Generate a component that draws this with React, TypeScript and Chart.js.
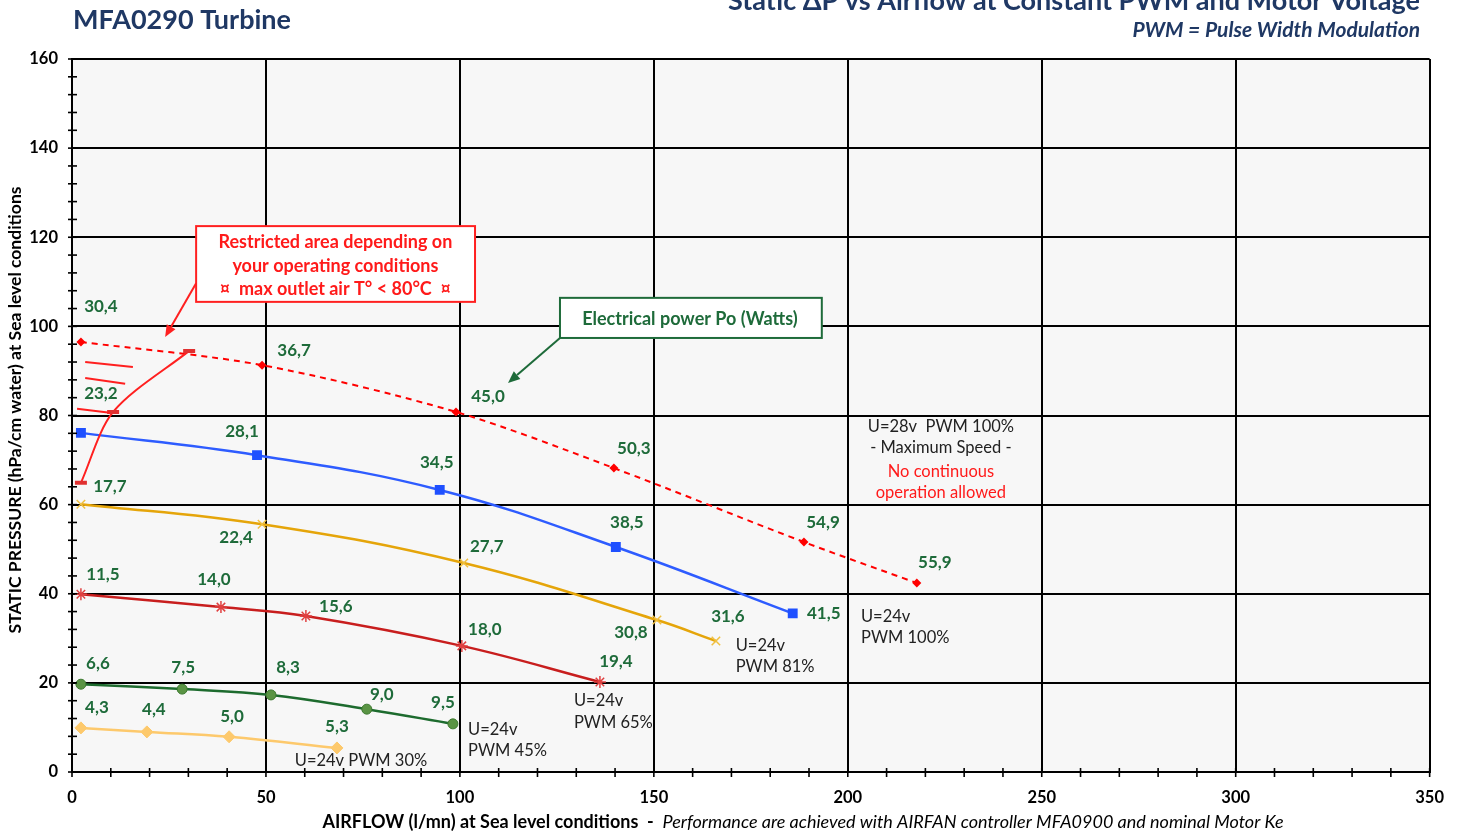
import React, { useEffect, useRef } from "react";
import { Chart, registerables } from "chart.js";

Chart.register(...registerables);

// ---------- DATA ----------
const xTicks = [0, 50, 100, 150, 200, 250, 300, 350];
const yTicks = [0, 20, 40, 60, 80, 100, 120, 140, 160];

// U=28v PWM 100% (max speed)
const airflow28v100 = [2.3, 49.0, 99.0, 139.7, 188.7, 217.8];
const pressure28v100 = [96.5, 91.3, 80.8, 68.2, 51.6, 42.4];
const power28v100 = ["30,4", "36,7", "45,0", "50,3", "54,9", "55,9"];

// U=24v PWM 100%
const airflow24v100 = [2.3, 47.7, 94.8, 140.2, 185.8];
const pressure24v100 = [76.1, 71.1, 63.3, 50.5, 35.6];
const power24v100 = ["23,2", "28,1", "34,5", "38,5", "41,5"];

// U=24v PWM 81%
const airflow24v81 = [2.3, 49.0, 101.0, 150.8, 166.0];
const pressure24v81 = [60.1, 55.6, 46.9, 34.1, 29.4];
const power24v81 = ["17,7", "22,4", "27,7", "30,8", "31,6"];

// U=24v PWM 65%
const airflow24v65 = [2.3, 38.4, 60.3, 100.5, 136.1];
const pressure24v65 = [39.9, 37.0, 35.0, 28.3, 20.2];
const power24v65 = ["11,5", "14,0", "15,6", "18,0", "19,4"];

// U=24v PWM 45%
const airflow24v45 = [2.3, 28.4, 51.3, 76.0, 98.2];
const pressure24v45 = [19.7, 18.6, 17.3, 14.1, 10.8];
const power24v45 = ["6,6", "7,5", "8,3", "9,0", "9,5"];

// U=24v PWM 30%
const airflow24v30 = [2.3, 19.3, 40.5, 68.3];
const pressure24v30 = [9.9, 9.0, 7.9, 5.4];
const power24v30 = ["4,3", "4,4", "5,0", "5,3"];

// Restricted area boundary
const airflowLimit = [2.3, 10.6, 30.2];
const pressureLimit = [64.9, 80.8, 94.5];

// Hatching of the restricted area
const hatch1X = [3.4, 15.7];
const hatch1Y = [92.0, 90.9];
const hatch2X = [3.4, 13.7];
const hatch2Y = [88.4, 87.1];
const hatch3X = [1.3, 9.8];
const hatch3Y = [81.5, 80.6];

// ---------- STYLE (label offsets in px) ----------
const off28v100 = [[20, -35], [32, -15], [32, -15], [20, -20], [19, -20], [18, -21]];
const off24v100 = [[20, -39], [-15, -24], [-3, -27], [11, -24], [31, 0]];
const off24v81 = [[29, -18], [-26, 13], [23, -16], [-26, 12], [12, -24]];
const off24v65 = [[22, -20], [-7, -28], [30, -10], [23, -16], [16, -20]];
const off24v45 = [[17, -21], [1, -22], [17, -27], [15, -15], [-10, -21]];
const off24v30 = [[16, -20], [7, -22], [3, -20], [0, -21]];

const FONT = "Lato, 'Open Sans', sans-serif";
const NAVY = "#1f3864";
const LABEL_GREEN = "#1e6b3a";

const pts = (xs: number[], ys: number[]) => xs.map((x, i) => ({ x, y: ys[i] }));

const overlayPlugin = {
  id: "overlay",
  beforeDraw(chart: any) {
    const { ctx, chartArea: a } = chart;
    ctx.save();
    ctx.fillStyle = "#ffffff";
    ctx.fillRect(0, 0, chart.width, chart.height);
    ctx.fillStyle = "#f7f7f7";
    ctx.fillRect(a.left, a.top, a.right - a.left, a.bottom - a.top);
    ctx.restore();
  },
  afterDraw(chart: any) {
    const { ctx, chartArea: a, scales } = chart;
    const xs = scales.x;
    const ys = scales.y;
    const X = (v: number) => xs.getPixelForValue(v);
    const Y = (v: number) => ys.getPixelForValue(v);
    ctx.save();

    // minor ticks
    ctx.strokeStyle = "#000";
    ctx.lineWidth = 1.6;
    for (let v = 0; v <= 350; v += 10) {
      const px = X(v);
      ctx.beginPath();
      ctx.moveTo(px, a.bottom - 4);
      ctx.lineTo(px, a.bottom + 5);
      ctx.stroke();
    }
    for (let v = 0; v <= 160; v += 4) {
      const py = Y(v);
      ctx.beginPath();
      ctx.moveTo(a.left - 4, py);
      ctx.lineTo(a.left + 5, py);
      ctx.stroke();
    }

    // power labels
    ctx.font = `bold 17px ${FONT}`;
    ctx.fillStyle = LABEL_GREEN;
    ctx.textAlign = "center";
    ctx.textBaseline = "middle";
    chart.data.datasets.forEach((ds: any, i: number) => {
      if (!ds.powerLabels) return;
      const meta = chart.getDatasetMeta(i);
      meta.data.forEach((el: any, j: number) => {
        const o = ds.labelOffsets[j];
        ctx.fillText(ds.powerLabels[j], el.x + o[0], el.y + o[1]);
      });
    });

    // series captions
    ctx.font = `16.5px ${FONT}`;
    ctx.fillStyle = "#222";
    ctx.textAlign = "center";
    ctx.fillText("U=24v PWM 30%", X(74.5), Y(2.5));
    ctx.textAlign = "left";
    ctx.fillText("U=24v", X(102.1), Y(9.4));
    ctx.fillText("PWM 45%", X(102.1), Y(4.7));
    ctx.fillText("U=24v", X(129.4), Y(15.9));
    ctx.fillText("PWM 65%", X(129.4), Y(11.0));
    ctx.fillText("U=24v", X(171.1), Y(28.3));
    ctx.fillText("PWM 81%", X(171.1), Y(23.6));
    ctx.fillText("U=24v", X(203.4), Y(34.8));
    ctx.fillText("PWM 100%", X(203.4), Y(30.1));
    ctx.textAlign = "center";
    ctx.fillText("U=28v  PWM 100%", X(224.0), Y(77.6));
    ctx.fillText("- Maximum Speed -", X(224.0), Y(72.7));
    ctx.fillStyle = "#ff1a1a";
    ctx.fillText("No continuous", X(224.0), Y(67.5));
    ctx.fillText("operation allowed", X(224.0), Y(62.6));

    // arrow helper
    const arrow = (x1: number, y1: number, x2: number, y2: number, color: string) => {
      ctx.strokeStyle = color;
      ctx.fillStyle = color;
      ctx.lineWidth = 2;
      const ang = Math.atan2(y2 - y1, x2 - x1);
      const hl = 12;
      const bx = x2 - Math.cos(ang) * hl;
      const by = y2 - Math.sin(ang) * hl;
      ctx.beginPath();
      ctx.moveTo(x1, y1);
      ctx.lineTo(bx, by);
      ctx.stroke();
      ctx.beginPath();
      ctx.moveTo(x2, y2);
      ctx.lineTo(bx + Math.cos(ang + Math.PI / 2) * 5, by + Math.sin(ang + Math.PI / 2) * 5);
      ctx.lineTo(bx + Math.cos(ang - Math.PI / 2) * 5, by + Math.sin(ang - Math.PI / 2) * 5);
      ctx.closePath();
      ctx.fill();
    };

    // Restricted area box
    const rL = X(32.0), rR = X(103.9), rT = Y(122.5), rB = Y(105.5);
    ctx.fillStyle = "#ffffff";
    ctx.fillRect(rL, rT, rR - rL, rB - rT);
    ctx.strokeStyle = "#ff2020";
    ctx.lineWidth = 2;
    ctx.strokeRect(rL, rT, rR - rL, rB - rT);
    ctx.fillStyle = "#ff1a1a";
    ctx.font = `bold 18px ${FONT}`;
    ctx.textAlign = "center";
    ctx.fillText("Restricted area depending on", X(67.9), Y(118.9));
    ctx.fillText("your operating conditions", X(67.9), Y(113.6));
    ctx.fillText("\u00A4  max outlet air T\u00B0 < 80\u00B0C  \u00A4", X(67.9), Y(108.4));
    arrow(X(32.0), Y(109.7), X(24.0), Y(97.6), "#ff2020");

    // Electrical power box
    const gL = X(125.8), gR = X(193.3), gT = Y(106.4), gB = Y(97.4);
    ctx.fillStyle = "#ffffff";
    ctx.fillRect(gL, gT, gR - gL, gB - gT);
    ctx.strokeStyle = "#1e6b3a";
    ctx.lineWidth = 2;
    ctx.strokeRect(gL, gT, gR - gL, gB - gT);
    ctx.fillStyle = LABEL_GREEN;
    ctx.fillText("Electrical power Po (Watts)", X(159.3), Y(101.7));
    arrow(X(125.8), Y(97.4), X(112.4), Y(87.3), "#1e6b3a");

    // titles
    ctx.fillStyle = NAVY;
    ctx.font = `bold 27px ${FONT}`;
    ctx.textAlign = "left";
    ctx.textBaseline = "middle";
    ctx.fillText("MFA0290 Turbine", 73, 20);
    ctx.textAlign = "right";
    ctx.textBaseline = "alphabetic";
    ctx.fillText("Static \u0394P vs Airflow at Constant PWM and Motor Voltage", 1420, 10);
    ctx.font = `italic bold 21px ${FONT}`;
    ctx.textBaseline = "middle";
    ctx.fillText("PWM = Pulse Width Modulation", 1420, 30);

    // axis titles
    ctx.fillStyle = "#000";
    ctx.font = `bold 17.5px ${FONT}`;
    ctx.save();
    ctx.translate(15, 410);
    ctx.rotate(-Math.PI / 2);
    ctx.textAlign = "center";
    ctx.fillText("STATIC PRESSURE (hPa/cm water) at Sea level conditions", 0, 0);
    ctx.restore();

    const boldPart = "AIRFLOW (l/mn) at Sea level conditions  -  ";
    const italicPart = "Performance are achieved with AIRFAN controller MFA0900 and nominal Motor Ke";
    ctx.font = `bold 18px ${FONT}`;
    const w1 = ctx.measureText(boldPart).width;
    ctx.font = `italic 18px ${FONT}`;
    const w2 = ctx.measureText(italicPart).width;
    const start = 803 - (w1 + w2) / 2;
    ctx.textAlign = "left";
    ctx.font = `bold 18px ${FONT}`;
    ctx.fillText(boldPart, start, 822);
    ctx.font = `italic 18px ${FONT}`;
    ctx.fillText(italicPart, start + w1, 822);

    ctx.restore();
  },
};

export default function App() {
  const ref = useRef<HTMLCanvasElement>(null);

  useEffect(() => {
    if (!ref.current) return;
    const line = (data: any[], color: string, extra: any = {}) => ({
      data,
      borderColor: color,
      backgroundColor: color,
      borderWidth: 2.5,
      tension: 0.4,
      ...extra,
    });

    const chart = new Chart(ref.current, {
      type: "line",
      data: {
        datasets: [
          line(pts(hatch1X, hatch1Y), "#ff2020", { pointRadius: 0, borderWidth: 2, tension: 0 }),
          line(pts(hatch2X, hatch2Y), "#ff2020", { pointRadius: 0, borderWidth: 2, tension: 0 }),
          line(pts(hatch3X, hatch3Y), "#ff2020", { pointRadius: 0, borderWidth: 2, tension: 0 }),
          line(pts(airflowLimit, pressureLimit), "#ff2020", {
            borderWidth: 2,
            pointStyle: "line",
            pointRadius: 6,
            pointBorderWidth: 4,
            pointBorderColor: "#e03030",
            tension: 0.3,
          }),
          line(pts(airflow24v30, pressure24v30), "#fdc96c", {
            pointStyle: "rectRot",
            pointRadius: 6,
            pointBorderWidth: 1,
            powerLabels: power24v30,
            labelOffsets: off24v30,
          }),
          line(pts(airflow24v45, pressure24v45), "#1d6b2e", {
            pointStyle: "circle",
            pointRadius: 5,
            pointBackgroundColor: "#5a9444",
            pointBorderColor: "#3d7a30",
            pointBorderWidth: 1,
            powerLabels: power24v45,
            labelOffsets: off24v45,
          }),
          line(pts(airflow24v65, pressure24v65), "#c81e1e", {
            pointStyle: "star",
            pointRadius: 6,
            pointBorderWidth: 1.5,
            pointBorderColor: "#e04040",
            powerLabels: power24v65,
            labelOffsets: off24v65,
          }),
          line(pts(airflow24v81, pressure24v81), "#e5a50a", {
            pointStyle: "crossRot",
            pointRadius: 6,
            pointBorderWidth: 1.5,
            pointBorderColor: "#f0c040",
            powerLabels: power24v81,
            labelOffsets: off24v81,
          }),
          line(pts(airflow24v100, pressure24v100), "#2e5cff", {
            pointStyle: "rect",
            pointRadius: 7,
            pointBackgroundColor: "#1f50ff",
            pointBorderWidth: 0,
            powerLabels: power24v100,
            labelOffsets: off24v100,
          }),
          line(pts(airflow28v100, pressure28v100), "#ff0000", {
            borderWidth: 2,
            borderDash: [6, 5],
            pointStyle: "rectRot",
            pointRadius: 4.5,
            pointBorderWidth: 0,
            tension: 0.3,
            powerLabels: power28v100,
            labelOffsets: off28v100,
          }),
        ] as any,
      },
      options: {
        responsive: false,
        animation: false,
        devicePixelRatio: 1,
        layout: { padding: { left: 0, top: 59, right: 30, bottom: 0 } },
        plugins: {
          legend: { display: false },
          tooltip: { enabled: false },
        },
        scales: {
          x: {
            type: "linear",
            min: 0,
            max: 350,
            afterBuildTicks: (s: any) => {
              s.ticks = xTicks.map((v) => ({ value: v }));
            },
            afterFit: (s: any) => {
              s.height = 61;
            },
            ticks: {
              color: "#000",
              padding: 16,
              font: { family: FONT, size: 16.5, weight: "bold" },
            },
            grid: { color: "#000", lineWidth: 2, drawTicks: false },
            border: { color: "#000", width: 2 },
          },
          y: {
            type: "linear",
            min: 0,
            max: 160,
            afterBuildTicks: (s: any) => {
              s.ticks = yTicks.map((v) => ({ value: v }));
            },
            afterFit: (s: any) => {
              s.width = 72;
            },
            ticks: {
              color: "#000",
              padding: 14,
              font: { family: FONT, size: 16.5, weight: "bold" },
            },
            grid: { color: "#000", lineWidth: 2, drawTicks: false },
            border: { color: "#000", width: 2 },
          },
        },
      } as any,
      plugins: [overlayPlugin],
    });
    return () => chart.destroy();
  }, []);

  return (
    <div style={{ position: "absolute", left: 0, top: 0, width: 1460, height: 833, background: "#fff" }}>
      <canvas ref={ref} width={1460} height={833} style={{ display: "block" }} />
    </div>
  );
}
